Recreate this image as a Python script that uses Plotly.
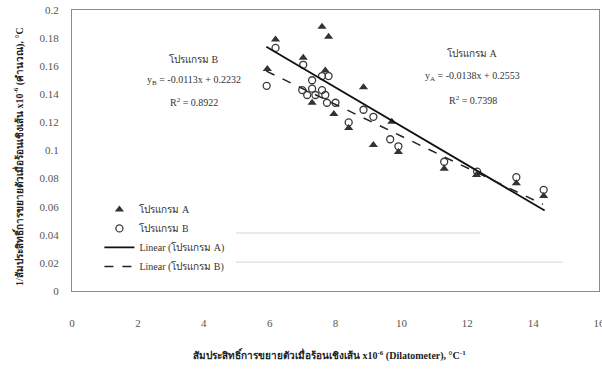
import plotly.graph_objects as go

# Program A (triangles)
a_x = [5.93, 6.18, 7.02, 7.29, 7.59, 7.69, 7.79, 7.95, 8.40, 8.85, 9.15, 9.71, 9.91, 11.30, 12.28, 13.49, 14.32]
a_y = [0.158, 0.179, 0.166, 0.134, 0.188, 0.157, 0.181, 0.126, 0.116, 0.145, 0.104, 0.1205, 0.099, 0.087, 0.0826, 0.0767, 0.0676]
# Program B (open circles)
b_x = [5.91, 6.18, 6.99, 7.02, 7.14, 7.29, 7.29, 7.39, 7.59, 7.59, 7.69, 7.74, 7.79, 8.00, 8.40, 8.85, 9.15, 9.66, 9.91, 11.30, 12.30, 13.49, 14.32]
b_y = [0.146, 0.173, 0.143, 0.161, 0.1395, 0.150, 0.144, 0.1395, 0.153, 0.143, 0.1395, 0.134, 0.153, 0.134, 0.120, 0.129, 0.124, 0.108, 0.103, 0.092, 0.085, 0.081, 0.072]

# Linear fits
a_slope, a_int = -0.0138, 0.2553
b_slope, b_int = -0.0113, 0.2232
a_line_x = [5.9, 14.35]
b_line_x = [5.9, 14.3]

x_ticks = [0, 2, 4, 6, 8, 10, 12, 14, 16]
y_ticks = [0, 0.02, 0.04, 0.06, 0.08, 0.1, 0.12, 0.14, 0.16, 0.18, 0.2]
y_ticklabels = ["0", "0.02", "0.04", "0.06", "0.08", "0.1", "0.12", "0.14", "0.16", "0.18", "0.2"]

names = ["โปรแกรม A", "โปรแกรม B", "Linear (โปรแกรม A)", "Linear (โปรแกรม B)"]

FONT = "Liberation Serif, Noto Sans, serif"

fig = go.Figure()
fig.add_trace(go.Scatter(x=a_x, y=a_y, mode="markers", name=names[0],
                         marker=dict(symbol="triangle-up", size=8, color="#333333")))
fig.add_trace(go.Scatter(x=b_x, y=b_y, mode="markers", name=names[1],
                         marker=dict(symbol="circle-open", size=7, color="#3a3a3a", line=dict(width=1.3))))
fig.add_trace(go.Scatter(x=a_line_x, y=[a_slope * v + a_int for v in a_line_x], mode="lines",
                         name=names[2], line=dict(color="#111111", width=1.8)))
fig.add_trace(go.Scatter(x=b_line_x, y=[b_slope * v + b_int for v in b_line_x], mode="lines",
                         name=names[3], line=dict(color="#222222", width=1.5, dash="dash")))

# faint horizontal artefact lines
for y0, x1 in [(0.0413, 12.39), (0.0206, 14.9)]:
    fig.add_shape(type="line", x0=4.98, x1=x1, y0=y0, y1=y0, xref="x", yref="y",
                  line=dict(color="#d4d4d4", width=1), layer="below")

ann_font = dict(family=FONT, size=10, color="#333333")
anns = [
    dict(x=0.231, y=0.825, text="โปรแกรม B"),
    dict(x=0.231, y=0.75, text="y<sub>B</sub> = -0.0113x + 0.2232"),
    dict(x=0.231, y=0.672, text="R<sup>2</sup> = 0.8922"),
    dict(x=0.76, y=0.848, text="โปรแกรม A"),
    dict(x=0.76, y=0.765, text="y<sub>A</sub> = -0.0138x + 0.2553"),
    dict(x=0.76, y=0.68, text="R<sup>2</sup> = 0.7398"),
]
for a in anns:
    fig.add_annotation(xref="paper", yref="paper", showarrow=False, font=ann_font,
                       xanchor="center", yanchor="middle", **a)

fig.add_annotation(xref="paper", yref="paper", x=0.488, y=-0.228, showarrow=False,
                   xanchor="center", yanchor="middle",
                   text="<b>สัมประสิทธิ์การขยายตัวเมื่อร้อนเชิงเส้น x10<sup>-6</sup> (Dilatometer), °C<sup>-1</sup></b>",
                   font=dict(family=FONT, size=10, color="#222222"))
fig.add_annotation(xref="paper", yref="paper", x=-0.101, y=0.48, showarrow=False, textangle=-90,
                   xanchor="center", yanchor="middle",
                   text="<b>1/สัมประสิทธิ์การขยายตัวเมื่อร้อนเชิงเส้น x10<sup>-6</sup> (คำนวณ), °C</b>",
                   font=dict(family=FONT, size=10, color="#222222"))

fig.update_layout(
    width=605, height=370,
    margin=dict(l=72, r=0, t=10, b=79),
    paper_bgcolor="white", plot_bgcolor="white",
    font=dict(family=FONT, size=11, color="#555555"),
    showlegend=True,
    legend=dict(x=0.052, y=0.342, xanchor="left", yanchor="top",
                bgcolor="rgba(0,0,0,0)", font=dict(family=FONT, size=10, color="#333333"),
                tracegroupgap=0, itemwidth=30),
    xaxis=dict(range=[0, 16], tickvals=x_ticks, ticktext=[str(v) for v in x_ticks],
               showgrid=False, zeroline=False, showline=True, linecolor="#8a8a8a",
               linewidth=1, mirror=True, ticks="", ticklabelstandoff=22,
               ticklabeloverflow="allow"),
    yaxis=dict(range=[0, 0.2], tickvals=y_ticks, ticktext=y_ticklabels,
               showgrid=False, zeroline=False, showline=True, linecolor="#8a8a8a",
               linewidth=1, mirror=True, ticks="", ticklabelstandoff=10,
               ticklabeloverflow="allow"),
)

fig.write_html("out.html", config={"displayModeBar": False},
               post_script="document.body.style.margin='0';document.body.style.overflow='hidden';")
